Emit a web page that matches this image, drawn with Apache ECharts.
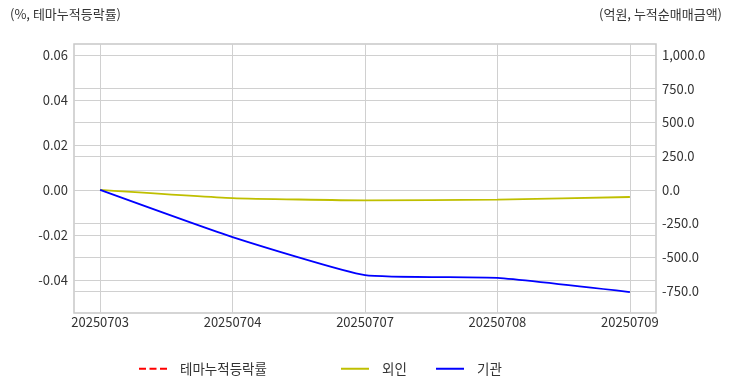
<!DOCTYPE html>
<html><head><meta charset="utf-8">
<script src="https://cdn.jsdelivr.net/npm/echarts@6/dist/echarts.min.js"></script>
<style>html,body{margin:0;padding:0;background:#fff}#c{width:732px;height:392px}</style>
</head><body><div id="c"></div>
<script>
var categories = ['20250703','20250704','20250707','20250708','20250709'];
var themeReturn = [null, null, null, null, null];
var foreignNet = [0, -61, -78, -72, -53];
var instNet = [0, -350, -632, -653, -758];
var leftTicks = [-0.04, -0.02, 0.00, 0.02, 0.04, 0.06];
var rightTicks = [-750, -500, -250, 0, 250, 500, 750, 1000];

var FONT = 'Noto Sans CJK KR';
var chart = echarts.init(document.getElementById('c'));
var xIdx = categories.map(function(c,i){ return i; });
var xData = function(arr){ return arr.map(function(v,i){ return [i, v]; }); };
var gridColor = '#d0d0d0';
var lblStyle = {fontSize: 13, color: '#333', fontFamily: FONT};
var legText = {fontSize: 13.5, color: '#333', fontFamily: FONT, padding: [0, 0, 0, 8]};
chart.setOption({
  animation: false,
  textStyle: {fontFamily: FONT},
  title: [
    {text: '(%, 테마누적등락률)', left: 5, top: 3, textStyle: {fontSize: 13, fontWeight: 'normal', color: '#333', fontFamily: FONT}},
    {text: '(억원, 누적순매매금액)', right: 5, top: 3, textStyle: {fontSize: 13, fontWeight: 'normal', color: '#333', fontFamily: FONT}}
  ],
  legend: [
    {left: 134, top: 357, itemWidth: 28, itemHeight: 2, itemGap: 12, data: [{name: '테마누적등락률', icon: 'path://M0,0H7V2H0Z M10.5,0H17.5V2H10.5Z M21,0H28V2H21Z'}], textStyle: legText},
    {left: 336, top: 357, itemWidth: 28, itemHeight: 2, data: [{name: '외인', icon: 'path://M0,0H28V2H0Z'}], textStyle: legText},
    {left: 431, top: 357, itemWidth: 28, itemHeight: 2, data: [{name: '기관', icon: 'path://M0,0H28V2H0Z'}], textStyle: legText}
  ],
  grid: {left: 74, right: 76, top: 44, bottom: 79, show: true, borderColor: '#c8c8c8', borderWidth: 1.5},
  xAxis: {
    type: 'value', min: -0.197, max: 4.197,
    axisLine: {show: false},
    axisTick: {show: false, customValues: xIdx},
    splitLine: {show: true, customValues: xIdx, lineStyle: {color: gridColor, width: 1}},
    axisLabel: Object.assign({customValues: xIdx, margin: 3, formatter: function(v){ return categories[Math.round(v)] || ''; }}, lblStyle)
  },
  yAxis: [
    {type: 'value', min: -0.0547, max: 0.0649,
     axisLine: {show: false},
     axisTick: {show: false, customValues: leftTicks},
     splitLine: {show: true, customValues: leftTicks, lineStyle: {color: gridColor, width: 1}},
     axisLabel: Object.assign({customValues: leftTicks, margin: 6, formatter: function(v){ return v.toFixed(2); }}, lblStyle)},
    {type: 'value', min: -913, max: 1081, position: 'right',
     axisLine: {show: false},
     axisTick: {show: false, customValues: rightTicks},
     splitLine: {show: true, customValues: rightTicks, lineStyle: {color: gridColor, width: 1}},
     axisLabel: Object.assign({customValues: rightTicks, margin: 6, formatter: function(v){ return v.toLocaleString('en-US',{minimumFractionDigits:1,maximumFractionDigits:1}); }}, lblStyle)}
  ],
  series: [
    {name: '테마누적등락률', type: 'line', yAxisIndex: 0, data: xData(themeReturn), showSymbol: false, symbol: 'none', itemStyle: {color: '#ff0000'}, lineStyle: {color: '#ff0000', type: 'dashed', width: 1.8}},
    {name: '외인', type: 'line', yAxisIndex: 1, data: xData(foreignNet), smooth: 0.15, showSymbol: false, symbol: 'none', itemStyle: {color: '#bfbf00'}, lineStyle: {color: '#bfbf00', width: 1.8}},
    {name: '기관', type: 'line', yAxisIndex: 1, data: xData(instNet), smooth: 0.15, showSymbol: false, symbol: 'none', itemStyle: {color: '#0000ff'}, lineStyle: {color: '#0000ff', width: 1.8}}
  ]
});
</script></body></html>
